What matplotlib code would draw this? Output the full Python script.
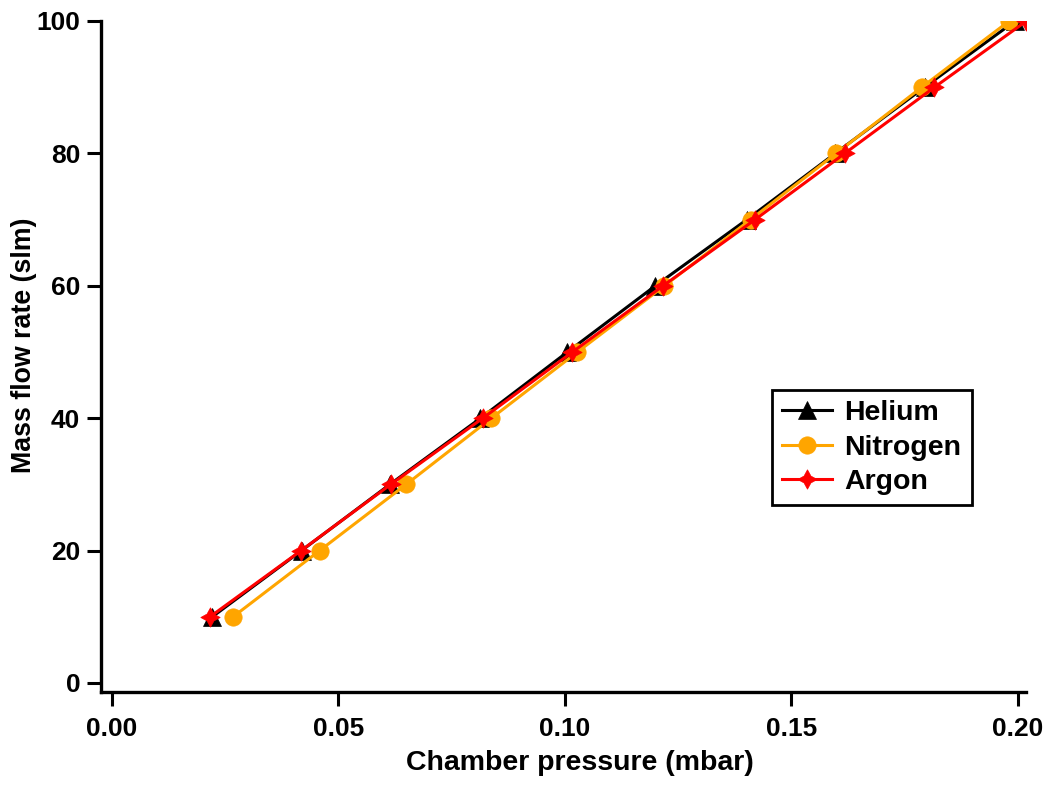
import matplotlib
matplotlib.use("Agg")
import matplotlib.pyplot as plt

plt.rcParams['font.family'] = ['Liberation Sans', 'DejaVu Sans']
plt.rcParams['font.weight'] = 'bold'

# Mass flow set points (slm) and resulting chamber pressures (mbar)
flow = [10, 20, 30, 40, 50, 60, 70, 80, 90, 100]
helium = [0.0222, 0.0419, 0.0614, 0.0814, 0.1006, 0.1200, 0.1402, 0.1597, 0.1794, 0.1994]
nitrogen = [0.0268, 0.0459, 0.0650, 0.0838, 0.1028, 0.1220, 0.1410, 0.1599, 0.1788, 0.1981]
argon = [0.0217, 0.0418, 0.0616, 0.0819, 0.1017, 0.1217, 0.1420, 0.1618, 0.1816, 0.2019]

series = [
    ("Helium", helium, "black", "^", 12.5),
    ("Nitrogen", nitrogen, "#FFA500", "o", 12.5),
    ("Argon", argon, "red", (4, 1, 0), 14),
]

fig = plt.figure(figsize=(10.5, 7.85), dpi=100)
ax = fig.add_axes([101/1050, 1 - 692/785, (1026 - 101)/1050, (692 - 21)/785])

for name, xs, col, mk, ms in series:
    ax.plot(xs, flow, color=col, lw=2.2, marker=mk, markersize=ms,
            markerfacecolor=col, markeredgecolor=col, markeredgewidth=0.5,
            label=name)

ax.set_xlim(-0.00236, 0.2018)
ax.set_ylim(-1.36, 100)
ax.set_xticks([0.0, 0.05, 0.10, 0.15, 0.20])
ax.set_xticklabels(["0.00", "0.05", "0.10", "0.15", "0.20"])
ax.set_yticks([0, 20, 40, 60, 80, 100])

for s in ["top", "right"]:
    ax.spines[s].set_visible(False)
for s in ["left", "bottom"]:
    ax.spines[s].set_linewidth(2.4)

ax.tick_params(axis='both', direction='out', length=10, width=2.2,
               labelsize=19)
ax.tick_params(axis='x', pad=8)
ax.tick_params(axis='y', pad=5)

ax.set_xlabel("Chamber pressure (mbar)", fontsize=20.5, fontweight='bold')
ax.set_ylabel("Mass flow rate (slm)", fontsize=19.3, fontweight='bold')
ax.xaxis.set_label_coords(0.518, -0.087)
ax.yaxis.set_label_coords(-0.069, 0.517)

leg = ax.legend(loc='upper left', bbox_to_anchor=(772/1050, 1 - 390/785),
                bbox_transform=fig.transFigure, borderaxespad=0,
                fancybox=False, framealpha=1, edgecolor='black',
                prop={'size': 20.5, 'weight': 'bold'}, handlelength=1.75,
                handletextpad=0.45, labelspacing=0.3, borderpad=0.35)
leg.get_frame().set_linewidth(2)

fig.savefig("out.png", dpi=100)
